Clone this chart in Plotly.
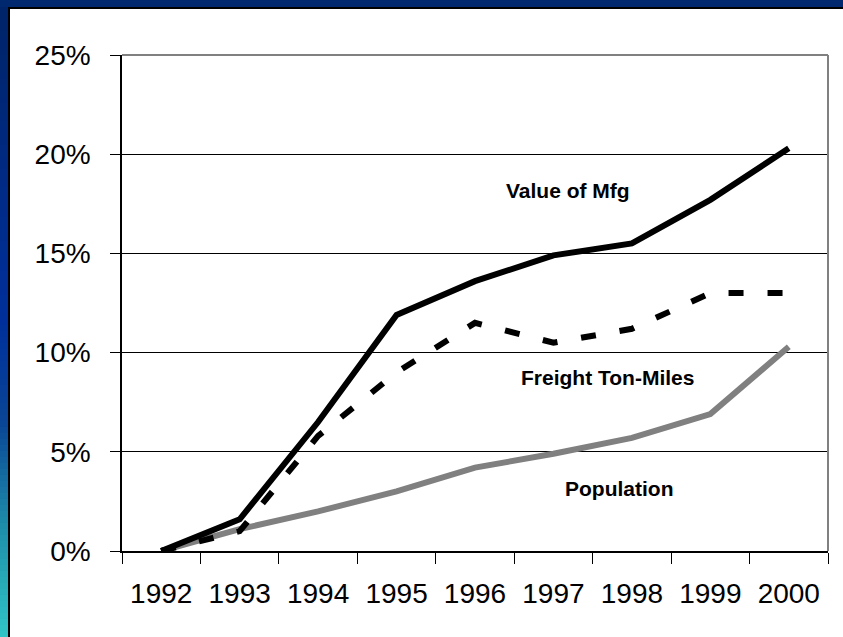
import plotly.graph_objects as go

years = ["1992", "1993", "1994", "1995", "1996", "1997", "1998", "1999", "2000"]
value_mfg = [0.0, 0.016, 0.065, 0.119, 0.136, 0.149, 0.155, 0.177, 0.203]
freight_ton_miles = [0.0, 0.010, 0.058, 0.090, 0.115, 0.105, 0.112, 0.130, 0.130]
population = [0.0, 0.011, 0.020, 0.030, 0.042, 0.049, 0.057, 0.069, 0.103]

W, H = 843, 637
L, R, T, B = 122, 15, 55, 86
PW, PH = W - L - R, H - T - B


def px(x):
    return (x - L) / PW


def py(y):
    return (H - B - y) / PH


def mix(c1, c2, t):
    return "rgb({},{},{})".format(*[int(a + (b - a) * t) for a, b in zip(c1, c2)])


fig = go.Figure()

fig.add_trace(go.Scatter(x=years, y=population, mode="lines",
                         line=dict(color="#808080", width=6), name="Population"))
fig.add_trace(go.Scatter(x=years, y=freight_ton_miles, mode="lines",
                         line=dict(color="black", width=6, dash="15px,24px"),
                         name="Freight Ton-Miles"))
fig.add_trace(go.Scatter(x=years, y=value_mfg, mode="lines",
                         line=dict(color="black", width=6), name="Value of Mfg"))

shapes = []
# white slide panel
shapes.append(dict(type="rect", xref="paper", yref="paper", layer="below",
                   x0=px(9), x1=px(W + 5), y0=py(H + 5), y1=py(8),
                   fillcolor="white", line=dict(color="black", width=2)))
# left gradient strip
stops = [(0, (0, 36, 104)), (320, (0, 48, 156)), (420, (10, 70, 150)),
         (520, (30, 140, 170)), (637, (50, 200, 200))]
step = 6
for y in range(7, H, step):
    for (ya, ca), (yb, cb) in zip(stops, stops[1:]):
        if ya <= y < yb:
            col = mix(ca, cb, (y - ya) / (yb - ya))
            break
    shapes.append(dict(type="rect", xref="paper", yref="paper", layer="below",
                       x0=px(-2), x1=px(8), y0=py(y + step + 1), y1=py(y),
                       fillcolor=col, line=dict(width=0)))
# gray plot border on top and right
shapes.append(dict(type="line", xref="paper", yref="paper",
                   x0=0, x1=1, y0=1, y1=1, line=dict(color="#808080", width=2)))
shapes.append(dict(type="line", xref="paper", yref="paper",
                   x0=1, x1=1, y0=0, y1=1, line=dict(color="#808080", width=2)))

labels = [("Value of Mfg", 568, 190), ("Freight Ton-Miles", 607, 378),
          ("Population", 619, 488)]
annotations = [dict(text=f"<b>{t}</b>", xref="paper", yref="paper", x=px(x), y=py(y),
                    showarrow=False, xanchor="center", yanchor="middle",
                    font=dict(family="Liberation Sans, Arial", size=21, color="black"))
               for t, x, y in labels]

fig.update_layout(
    width=W, height=H,
    margin=dict(l=L, r=R, t=T, b=B, pad=0),
    paper_bgcolor="#00286E",
    plot_bgcolor="rgba(0,0,0,0)",
    showlegend=False,
    shapes=shapes,
    annotations=annotations,
    font=dict(family="Liberation Sans, Arial", color="black", size=28),
)
fig.update_xaxes(type="category", tickson="boundaries", range=[-0.5, 8.5],
                 showline=True, linecolor="black", linewidth=1.5,
                 ticks="outside", ticklen=11, tickcolor="black",
                 showgrid=False, zeroline=False, tickfont=dict(size=28),
                 ticklabelstandoff=17)
fig.update_yaxes(range=[0, 0.25], dtick=0.05, tickformat=".0%",
                 showline=True, linecolor="black", linewidth=1.5,
                 ticks="outside", ticklen=10, tickcolor="black",
                 showgrid=True, gridcolor="black", gridwidth=1,
                 zeroline=False, tickfont=dict(size=28), ticklabelstandoff=14)

fig.write_html("out.html", config={"displayModeBar": False},
               post_script="document.body.style.margin='0px';")
